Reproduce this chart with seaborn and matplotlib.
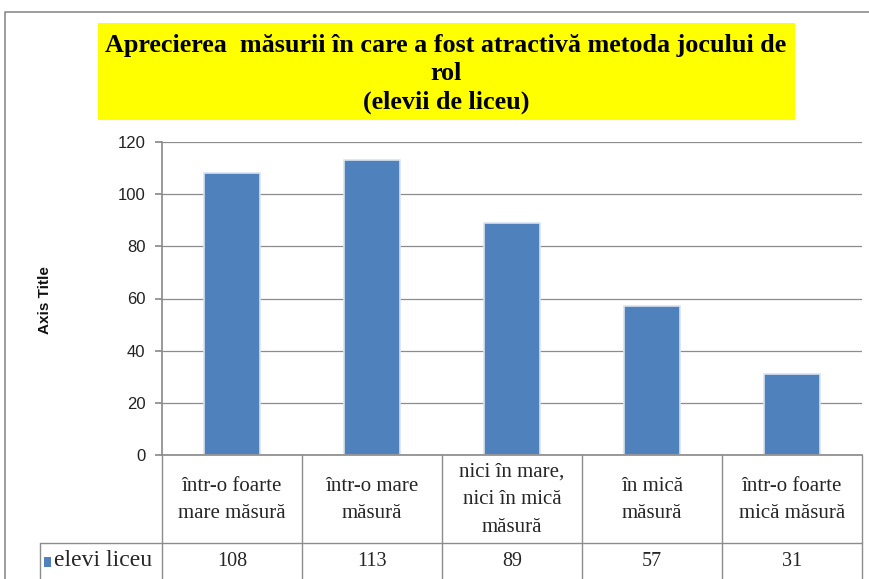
import matplotlib
matplotlib.use("Agg")
import matplotlib.pyplot as plt
import matplotlib.transforms as mtransforms
from matplotlib.patches import Rectangle
from matplotlib.lines import Line2D
import seaborn as sns
import pandas as pd

categories = ["într-o foarte\nmare măsură", "într-o mare\nmăsură", "nici în mare,\nnici în mică\nmăsură",
              "în mică\nmăsură", "într-o foarte\nmică măsură"]
values = [108, 113, 89, 57, 31]
series_name = "elevi liceu"
title_lines = "Aprecierea  măsurii în care a fost atractivă metoda jocului de\nrol\n(elevii de liceu)"
yticks = [0, 20, 40, 60, 80, 100, 120]

W, H = 870, 579
sns.set_theme(style="white")
plt.rcParams['font.family'] = ['Liberation Sans', 'DejaVu Sans']
SERIF = ["Liberation Serif", "DejaVu Serif"]

fig = plt.figure(figsize=(W / 100, H / 100), dpi=100)

def fx(px):
    return px / W

def fy(py):
    return 1 - py / H

L, R, T, B = 162, 862, 142, 455
ax = fig.add_axes([fx(L), fy(B), fx(R - L), (B - T) / H])

df = pd.DataFrame({"cat": categories, "val": values})
sns.barplot(data=df, x="cat", y="val", color="#4F81BD", width=0.4, ax=ax,
            edgecolor="#D9E3F0", linewidth=1.2, saturation=1)
ax.set_xlim(-0.5, len(categories) - 0.5)
ax.set_ylim(0, 120)
ax.set_yticks(yticks)
ax.set_yticklabels([str(t) for t in yticks], fontsize=12, color="#222222")
ax.set_xticks([])
ax.set_xlabel("")
ax.set_ylabel("")
ax.yaxis.grid(True, color="#8C8C8C", linewidth=0.9)
ax.set_axisbelow(True)
for s in ["top", "right"]:
    ax.spines[s].set_visible(False)
ax.spines["left"].set_color("#8C8C8C")
ax.spines["bottom"].set_color("#8C8C8C")
ax.tick_params(axis="y", length=5, color="#8C8C8C", left=True, pad=7)

fig.text(fx(45), fy(300), "Axis Title", rotation=90, ha="center", va="center",
         fontsize=11, fontweight="bold", color="#111111")

# Outer chart border (left and top)
fig.add_artist(Line2D([fx(5), fx(5), fx(870)], [0, fy(12), fy(12)], color="#8C8C8C", lw=1.2))

# Title box
fig.add_artist(Rectangle((fx(98), fy(120)), fx(795 - 98), (120 - 23) / H, facecolor="#FFFF00",
                         edgecolor="none"))
fig.text(fx(446), fy(74), title_lines, ha="center", va="center", fontsize=18.8, fontweight="bold",
         family=SERIF, linespacing=1.32, color="black")

# Data table
grid_c = "#8C8C8C"
row_sep = 543
bounds = [L + i * (R - L) / len(categories) for i in range(len(categories) + 1)]
for b in bounds:
    fig.add_artist(Line2D([fx(b), fx(b)], [fy(B), 0], color=grid_c, lw=1))
fig.add_artist(Line2D([fx(40), fx(R)], [fy(row_sep), fy(row_sep)], color=grid_c, lw=1))
fig.add_artist(Line2D([fx(40), fx(40)], [fy(row_sep), 0], color=grid_c, lw=1))

trans = mtransforms.blended_transform_factory(ax.transData, fig.transFigure)
for i, (c, v) in enumerate(zip(categories, values)):
    fig.text(i, fy((B + row_sep) / 2 + 1), c, transform=trans, ha="center", va="center",
             fontsize=15, family=SERIF, linespacing=1.62)
    fig.text(i, fy(561), str(v), transform=trans, ha="center", va="center",
             fontsize=14.5, family=SERIF)

fig.add_artist(Rectangle((fx(44), fy(567)), fx(7), 10 / H, facecolor="#4F81BD", edgecolor="none"))
fig.text(fx(54), fy(561), series_name, ha="left", va="center", fontsize=17, family=SERIF)

fig.savefig("out.png", dpi=100)
